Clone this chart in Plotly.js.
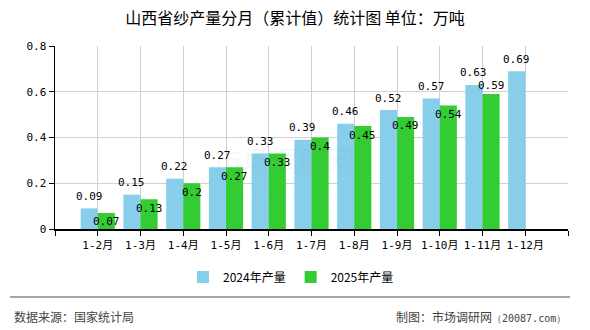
<!DOCTYPE html>
<html>
<head>
<meta charset="utf-8">
<script src="https://cdn.plot.ly/plotly-3.0.1.min.js"></script>
<style>html,body{margin:0;padding:0;background:#fff;}#chart{width:590px;height:330px;}</style>
</head>
<body>
<div id="chart"></div>
<script>
// ---- data ----
const categories = ['1-2月','1-3月','1-4月','1-5月','1-6月','1-7月','1-8月','1-9月','1-10月','1-11月','1-12月'];
const values2024 = [0.09,0.15,0.22,0.27,0.33,0.39,0.46,0.52,0.57,0.63,0.69];
const values2025 = [0.07,0.13,0.2,0.27,0.33,0.4,0.45,0.49,0.54,0.59];
const seriesNames = ['2024年产量','2025年产量'];
const yTicks = [0,0.2,0.4,0.6,0.8];
const yTickText = ['0','0.2','0.4','0.6','0.8'];

// ---- style ----
const colors = ['#87CEEB','#33CC33'];
const numFont = '"DejaVu Sans Mono", "Noto Sans CJK SC", monospace';
const cjkFont = '"Noto Sans CJK SC", sans-serif';
// label vertical offset (px) for 2025 series labels
const shift2025 = values2025.map((v, i) => (i === 9 ? 9 : -9));

// plot area in pixels: left 55, right 568, top 46, bottom 229
const L = 55, R = 568, T = 46, B = 229;
const px2x = p => (p - L) / (R - L);
const px2y = p => (B - p) / (B - T);

const idx = categories.map((_, i) => i);

const traces = [
  {type:'bar', name:seriesNames[0], x:idx, y:values2024, marker:{color:colors[0]}, hoverinfo:'y'},
  {type:'bar', name:seriesNames[1], x:idx.slice(0, values2025.length), y:values2025, marker:{color:colors[1]}, hoverinfo:'y'}
];

const annotations = [];
values2024.forEach((v, i) => annotations.push({
  x: i - 0.2, y: v, xref:'x', yref:'y', text: String(v), showarrow:false,
  yshift: 12, font:{family:numFont, size:11, color:'#000'}
}));
values2025.forEach((v, i) => annotations.push({
  x: i + 0.2, y: v, xref:'x', yref:'y', text: String(v), showarrow:false,
  yshift: shift2025[i], font:{family:numFont, size:11, color:'#000'}
}));
// watermark
annotations.push({x: px2x(284), y: px2y(182), xref:'paper', yref:'paper', text:'市场调研网', showarrow:false,
  font:{family:cjkFont, size:28, color:'rgba(120,130,150,0.07)'}});
annotations.push({x: px2x(284), y: px2y(205), xref:'paper', yref:'paper', text:'w w w . 2 0 0 8 7 . c o m', showarrow:false,
  font:{family:cjkFont, size:10, color:'rgba(120,130,150,0.07)'}});
// footer
annotations.push({x: px2x(12), y: px2y(316), xref:'paper', yref:'paper', xanchor:'left', yanchor:'middle',
  text:'数据来源：国家统计局', showarrow:false, font:{family:cjkFont, size:12, color:'#444'}});
annotations.push({x: px2x(568), y: px2y(316), xref:'paper', yref:'paper', xanchor:'right', yanchor:'middle',
  text:'制图：市场调研网<span style="font-family:DejaVu Sans Mono;font-size:10px">（20087.com）</span>', showarrow:false,
  font:{family:cjkFont, size:12, color:'#444'}});

const tickvals = [-1].concat(idx, [categories.length]);
const ticktext = [''].concat(categories, ['']);

const layout = {
  width:590, height:330,
  margin:{l:L, r:590-R, t:T, b:330-B, pad:0},
  paper_bgcolor:'#fff', plot_bgcolor:'#fff',
  title:{text:'山西省纱产量分月（累计值）统计图 单位：万吨', x:0.5, xref:'container', y:1-18/330, yref:'container', yanchor:'middle',
    font:{family:cjkFont, size:16, color:'#000'}},
  barmode:'group', bargap:0.2, bargroupgap:0,
  showlegend:true,
  legend:{orientation:'h', x: px2x(291), xanchor:'center', y: px2y(277), yanchor:'middle',
    font:{family:cjkFont, size:12, color:'#000'}, itemwidth:30, traceorder:'normal'},
  xaxis:{type:'linear', range:[-1, categories.length], tickmode:'array', tickvals:tickvals, ticktext:ticktext,
    showgrid:true, gridcolor:'#d0d0d0', gridwidth:1, showline:true, linecolor:'#000', linewidth:1.5,
    ticks:'outside', ticklen:5, tickcolor:'#000', zeroline:false, fixedrange:true,
    tickfont:{family:numFont, size:11, color:'#000'}},
  yaxis:{range:[0,0.8], tickmode:'array', tickvals:yTicks, ticktext:yTickText,
    showgrid:true, gridcolor:'#d0d0d0', gridwidth:1, showline:true, linecolor:'#000', linewidth:1.5,
    ticks:'outside', ticklen:5, tickcolor:'#000', zeroline:false, fixedrange:true,
    tickfont:{family:numFont, size:11, color:'#000'}},
  shapes:[{type:'line', xref:'paper', yref:'paper', x0:px2x(10), x1:px2x(570), y0:px2y(297), y1:px2y(297),
    line:{color:'#888', width:1.5}}],
  annotations:annotations
};

Plotly.newPlot('chart', traces, layout, {displayModeBar:false, staticPlot:true});
</script>
</body>
</html>
